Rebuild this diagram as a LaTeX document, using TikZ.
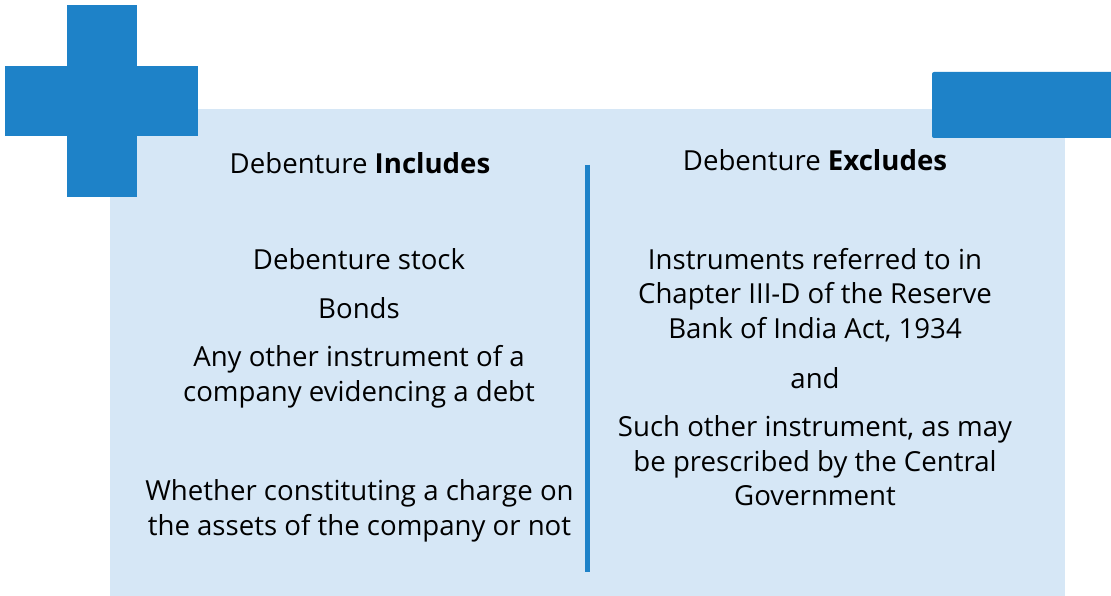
\documentclass[tikz,border=0pt]{standalone}
\usepackage{fontspec}
\setmainfont{Open Sans}
\definecolor{darkblue}{RGB}{30,130,200}
\definecolor{lightblue}{RGB}{214,231,246}
\begin{document}
\begin{tikzpicture}[x=1pt,y=-1pt,
  txt/.style={align=center,font=\fontsize{27.6}{34.5}\selectfont,inner sep=0pt,text=black},
  blk/.style={fill=darkblue,draw=none}]
\useasboundingbox (0,0) rectangle (1111,596);
% light panel
\fill[lightblue] (110,109) rectangle (1065,596);
% cross
\fill[darkblue] (67,5) rectangle (137,197);
\fill[darkblue] (5,66) rectangle (198,136);
% right tab
\fill[darkblue,rounded corners=2pt] (932,72) rectangle (1120,138);
% divider
\coordinate (dtop) at (587.5,165);
\coordinate (dbot) at (587.5,572);
\draw[darkblue,line width=5pt] (dtop) -- (dbot);
% headings
\node[txt] (hinc) at (360,163) {Debenture \textbf{Includes}};
\node[txt] (hexc) at (815,160) {Debenture \textbf{Excludes}};
% left column
\node[txt] (stock) at (359,259) {Debenture stock};
\node[txt] (bonds) at (359,308) {Bonds};
\node[txt] (other) at (359,377) {Any other instrument of a\\company evidencing a debt};
\node[txt] (whether) at (359.5,511) {Whether constituting a charge on\\the assets of the company or not};
% right column
\node[txt] (instr) at (815,295) {Instruments referred to in\\Chapter III-D of the Reserve\\Bank of India Act, 1934};
\node[txt] (and) at (815,378) {and};
\node[txt] (such) at (815,461) {Such other instrument, as may\\be prescribed by the Central\\Government};
\end{tikzpicture}
\end{document}
